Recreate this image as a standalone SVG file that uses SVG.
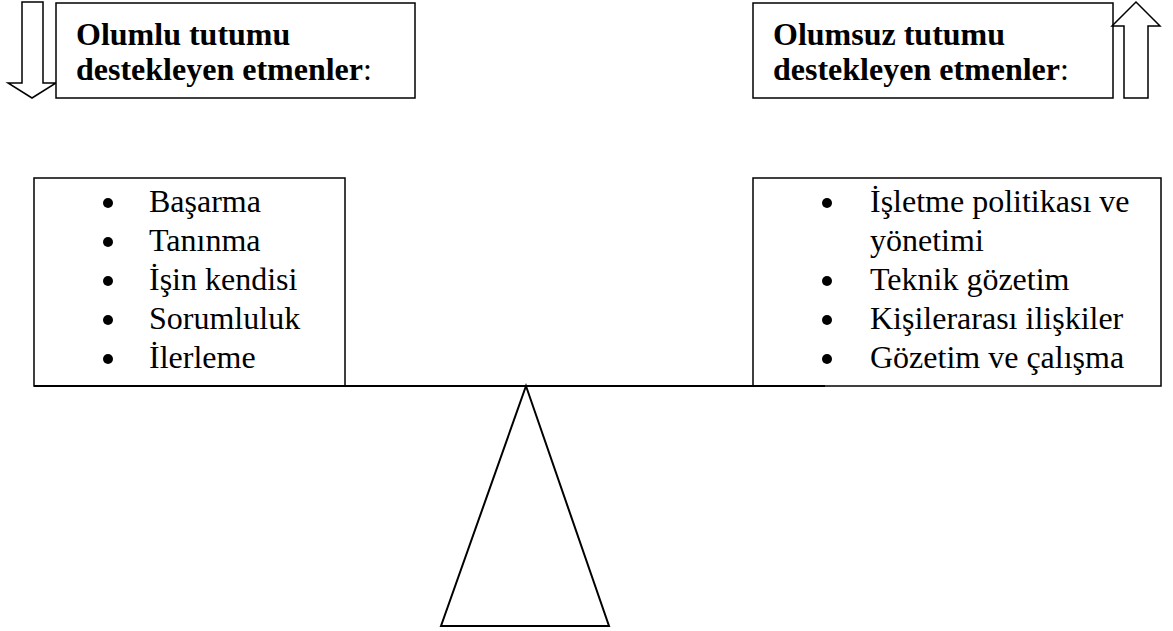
<svg xmlns="http://www.w3.org/2000/svg" width="1173" height="631" viewBox="0 0 1173 631">
<style>
.box{fill:#fff;stroke:#000;stroke-width:1.5}
.ln{fill:none;stroke:#000;stroke-width:2}
.hd{font-family:"Liberation Serif","Times New Roman",serif;font-size:32px;font-weight:bold;fill:#000}
.hd .n{font-weight:normal}
.it{font-family:"Liberation Serif","Times New Roman",serif;font-size:32px;fill:#000}
</style>
<rect width="1173" height="631" fill="#fff"/>
<g id="arrow-down">
<polygon class="box" points="22,2 43,2 43,83 56,83 32,98 8,83 22,83"/>
</g>
<g id="header-left">
<rect class="box" x="56" y="3" width="359" height="95"/>
<text class="hd" x="76" y="45">Olumlu tutumu</text>
<text class="hd" x="76" y="80">destekleyen etmenler<tspan class="n">:</tspan></text>
</g>
<g id="header-right">
<rect class="box" x="753" y="3" width="360" height="95"/>
<text class="hd" x="773" y="45">Olumsuz tutumu</text>
<text class="hd" x="773" y="80">destekleyen etmenler<tspan class="n">:</tspan></text>
</g>
<g id="arrow-up">
<polygon class="box" points="1124,98 1148,98 1148,26 1160,26 1136,2 1112,26 1124,26"/>
</g>
<g id="list-left">
<rect class="box" x="34" y="178" width="311" height="208"/>
<circle cx="108" cy="203" r="5"/><text class="it" x="149" y="212">Başarma</text>
<circle cx="108" cy="242" r="5"/><text class="it" x="149" y="251">Tanınma</text>
<circle cx="108" cy="281" r="5"/><text class="it" x="149" y="290">İşin kendisi</text>
<circle cx="108" cy="320" r="5"/><text class="it" x="149" y="329">Sorumluluk</text>
<circle cx="108" cy="359" r="5"/><text class="it" x="149" y="368">İlerleme</text>
</g>
<g id="list-right">
<rect class="box" x="753" y="178" width="408" height="208"/>
<circle cx="827" cy="203" r="5"/><text class="it" x="870" y="212">İşletme politikası ve</text>
<text class="it" x="870" y="251">yönetimi</text>
<circle cx="827" cy="281" r="5"/><text class="it" x="870" y="290">Teknik gözetim</text>
<circle cx="827" cy="320" r="5"/><text class="it" x="870" y="329">Kişilerarası ilişkiler</text>
<circle cx="827" cy="359" r="5"/><text class="it" x="870" y="368">Gözetim ve çalışma</text>
</g>
<g id="connectors">
<line class="ln" x1="34" y1="386" x2="825" y2="386"/>
<polygon class="ln" points="526,386 609,626 441,626"/>
</g>
</svg>
